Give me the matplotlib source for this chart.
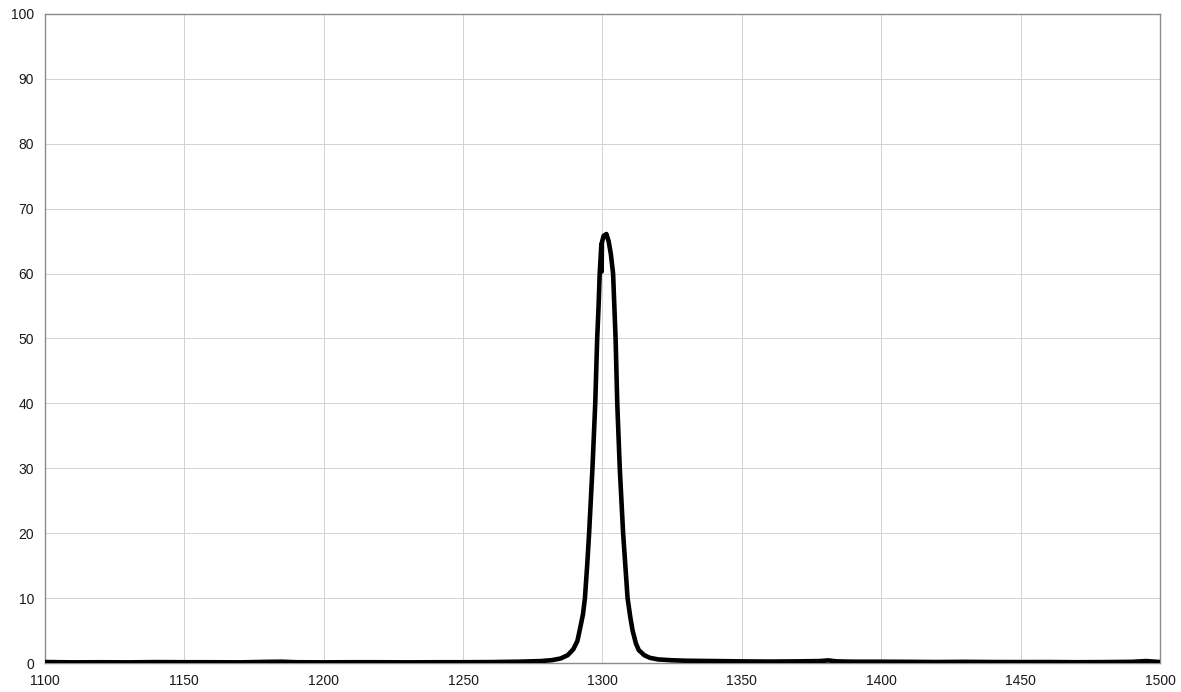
import matplotlib
matplotlib.use("Agg")
import matplotlib.pyplot as plt
import numpy as np

plt.rcParams['font.family'] = ['Liberation Sans', 'DejaVu Sans']

# spectrum: wavelength (nm) and power
wavelength = [1100, 1110, 1120, 1130, 1140, 1150, 1160, 1170, 1180, 1185, 1190,
              1200, 1210, 1220, 1230, 1240, 1250, 1260, 1266, 1270, 1274, 1278,
              1282, 1285, 1287.5, 1289.5, 1291, 1291.8, 1293, 1293.7, 1294.5,
              1295.2, 1295.8, 1296.4, 1296.9, 1297.4, 1298.1, 1298.6, 1299.0,
              1299.6, 1299.7, 1299.8, 1300.4, 1301.4, 1302.2, 1303.0, 1303.8,
              1304.7, 1305.3, 1306.2, 1306.8, 1307.4, 1308.2, 1309.0, 1310.0,
              1310.8, 1312.0, 1313.0, 1315.0, 1317.0, 1320.0, 1325.0, 1330.0,
              1340, 1350, 1360, 1370, 1378, 1381, 1384, 1390, 1400, 1410, 1420,
              1430, 1440, 1450, 1460, 1470, 1480, 1490, 1495, 1500]
power = [0.15, 0.1, 0.12, 0.1, 0.14, 0.12, 0.12, 0.1, 0.18, 0.2, 0.12,
         0.1, 0.12, 0.12, 0.1, 0.12, 0.12, 0.14, 0.18, 0.2, 0.25, 0.3,
         0.45, 0.7, 1.2, 2.1, 3.4, 5.0, 7.5, 10.0, 15.0,
         20.0, 25.0, 30.0, 35.0, 40.0, 50.0, 55.0, 60.0,
         64.5, 60.3, 64.8, 65.8, 66.1, 65.0, 63.0, 60.0,
         50.0, 40.0, 30.0, 25.0, 20.0, 15.0, 10.0, 7.0,
         5.0, 3.0, 2.0, 1.2, 0.8, 0.55, 0.42, 0.35,
         0.3, 0.25, 0.22, 0.25, 0.3, 0.4, 0.25, 0.2, 0.2, 0.18, 0.15,
         0.18, 0.15, 0.14, 0.15, 0.12, 0.14, 0.18, 0.3, 0.15]

x_ticks = [1100, 1150, 1200, 1250, 1300, 1350, 1400, 1450, 1500]
y_ticks = [0, 10, 20, 30, 40, 50, 60, 70, 80, 90, 100]

fig = plt.figure(figsize=(11.81, 6.92), dpi=100)
ax = fig.add_axes([0.0381, 0.0419, 0.9441, 0.9379])

ax.plot(wavelength, power, color='black', linewidth=3.3, solid_joinstyle='round',
        solid_capstyle='butt', zorder=3)

ax.set_xlim(1100, 1500)
ax.set_ylim(0, 100)
ax.set_xticks(x_ticks)
ax.set_yticks(y_ticks)
ax.grid(True, color='#d2d2d2', linewidth=0.7)
ax.tick_params(length=0, labelsize=10, colors='#1a1a1a', pad=8)
for s in ax.spines.values():
    s.set_color('#8c8c8c')
    s.set_linewidth(1)

fig.savefig('out.png', dpi=100)
